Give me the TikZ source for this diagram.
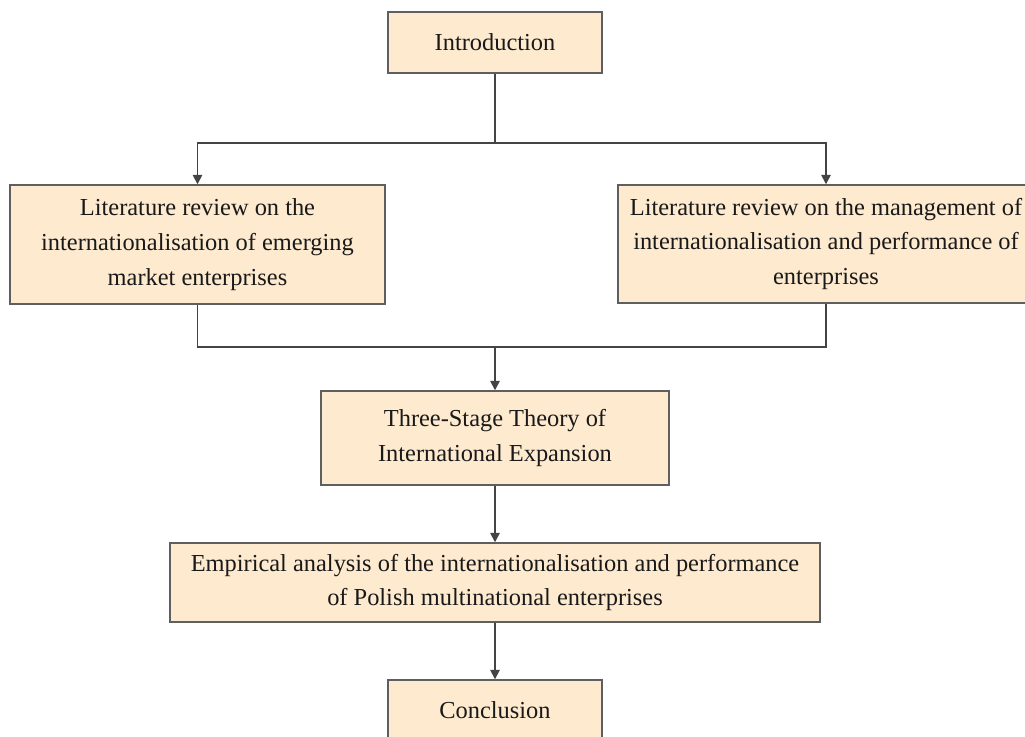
\documentclass[tikz,border=0pt]{standalone}
\usepackage{fontspec}
\setmainfont{Liberation Serif}
\usetikzlibrary{arrows.meta}
\definecolor{boxfill}{RGB}{253,234,207}
\definecolor{boxline}{RGB}{95,95,95}
\definecolor{conn}{RGB}{68,68,68}
\begin{document}
\begin{tikzpicture}[x=0.75pt,y=-0.75pt,
  box/.style={draw=boxline,line width=1.1pt,fill=boxfill,align=center,inner sep=0pt,
    font=\fontsize{18.3}{26.2}\selectfont,text=black!90},
  link/.style={draw=conn,line width=1.3pt},
  arr/.style={link,-{Triangle[width=7pt,length=7pt]}}]
\useasboundingbox (0,0) rectangle (1025,736);
\clip (0,0) rectangle (1025,736);
\node[box,minimum width=214*0.75pt,minimum height=61*0.75pt] (intro) at (495,42.5) {Introduction};
\node[box,minimum width=375*0.75pt,minimum height=119*0.75pt] (left) at (197.5,244.5) {Literature review on the\\internationalisation of emerging\\market enterprises};
\node[box,minimum width=416*0.75pt,minimum height=118*0.75pt] (right) at (826,244) {Literature review on the management of\\internationalisation and performance of\\enterprises};
\node[box,minimum width=348*0.75pt,minimum height=94*0.75pt] (three) at (495,438) {Three-Stage Theory of\\International Expansion};
\node[box,minimum width=650*0.75pt,minimum height=79*0.75pt] (emp) at (495,582.5) {Empirical analysis of the internationalisation and performance\\of Polish multinational enterprises};
\node[box,minimum width=214*0.75pt,minimum height=61*0.75pt] (conc) at (495,710.5) {Conclusion};
\coordinate (split) at (495,143);
\coordinate (merge) at (495,347);
\draw[link] (intro.south) -- (split);
\draw[arr] (split) -| (left.north);
\draw[arr] (split) -| (right.north);
\draw[link] (left.south) |- (merge);
\draw[link] (right.south) |- (merge);
\draw[arr] (merge) -- (three.north);
\draw[arr] (three.south) -- (emp.north);
\draw[arr] (emp.south) -- (conc.north);
\end{tikzpicture}
\end{document}
